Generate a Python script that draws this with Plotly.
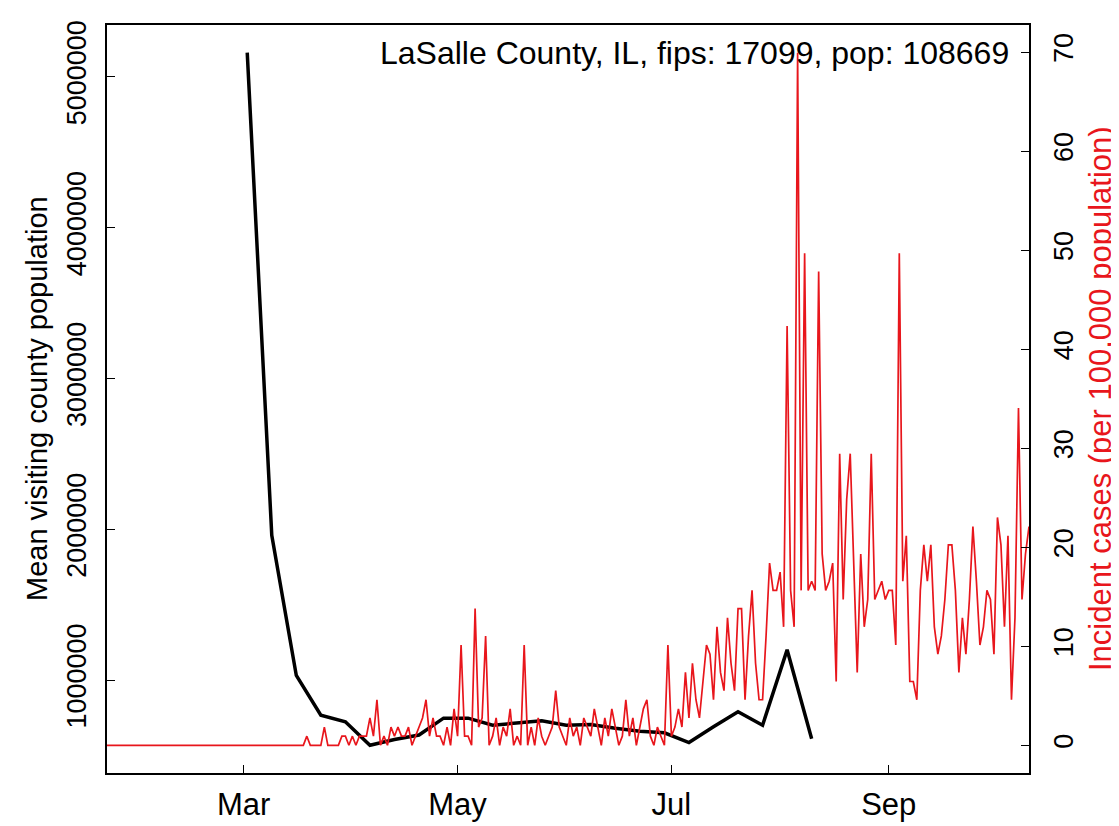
import datetime as dt
import plotly.graph_objects as go

# ---------------- data ----------------
county_label = "LaSalle County, IL, fips: 17099, pop: 108669"
population = 108669

# daily incident case counts, starting 2020-01-22
case_start = "2020-01-22"
daily_cases = (
    [0] * 57 +
    [1, 0, 0, 0, 0, 2, 0, 0, 0, 0, 1, 1, 0, 1, 0, 1, 1, 1, 3, 1,   # day 57-76
     5, 0, 1, 0, 2, 1, 2, 1, 1, 2, 0, 1, 2, 3, 5, 1, 3, 1, 1, 0,   # day 77-96
     2, 0, 4, 1, 11, 1, 1, 0, 15, 2, 3, 12, 0, 1, 3, 0, 2, 1, 4, 0,  # day 97-116
     1, 0, 11, 0, 2, 0, 3, 1, 0, 1, 2, 6, 2, 1, 0, 3, 1, 2, 0, 3,  # day 117-136
     2, 1, 4, 2, 0, 3, 1, 4, 2, 0, 1, 5, 1, 3, 0, 2, 4, 5, 1, 0,   # day 137-156
     2, 1, 0, 11, 1, 2, 4, 2, 8, 3, 9, 5, 3, 7, 11, 10, 5, 13, 8, 6,  # day 157-176
     14, 9, 6, 15, 15, 5, 12, 17, 9, 5, 5, 12, 20, 17, 17, 19, 13, 46, 17, 13,  # day 177-196
     76, 17, 54, 17, 18, 17, 52, 21, 17, 18, 20, 7, 32, 16, 27, 32, 20, 8, 21, 13,  # day 197-216
     16, 32, 16, 17, 18, 16, 17, 17, 11, 54, 18, 23, 7, 7, 5, 17, 22, 18, 22, 13,  # day 217-236
     10, 12, 16, 22, 22, 17, 8, 14, 10, 16, 24, 18, 11, 13, 17, 16, 10, 25, 22, 13,  # day 237-256
     23, 5, 14, 37, 16, 21, 24]  # day 257-263
)

# weekly mean visiting county population
mob_dates = ["2020-03-02", "2020-03-09", "2020-03-16", "2020-03-23", "2020-03-30",
             "2020-04-06", "2020-04-13", "2020-04-20", "2020-04-27", "2020-05-04",
             "2020-05-11", "2020-05-18", "2020-05-25", "2020-06-01", "2020-06-08",
             "2020-06-15", "2020-06-22", "2020-06-29", "2020-07-06", "2020-07-13",
             "2020-07-20", "2020-07-27", "2020-08-03", "2020-08-10"]
mob_values = [5160000, 1960000, 1030000, 766000, 723000,
              567000, 605000, 635000, 747000, 747000,
              700000, 715000, 730000, 700000, 705000,
              680000, 660000, 650000, 585000, 690000,
              790000, 700000, 1200000, 610000]

x_tick_vals = ["2020-03-01", "2020-05-01", "2020-07-01", "2020-09-01"]
x_tick_text = ["Mar", "May", "Jul", "Sep"]
left_tick_vals = [1000000, 2000000, 3000000, 4000000, 5000000]
left_tick_text = ["1000000", "2000000", "3000000", "4000000", "5000000"]
right_tick_vals = [0, 10, 20, 30, 40, 50, 60, 70]

# ---------------- derived ----------------
d0 = dt.date.fromisoformat(case_start)
case_dates = [d0 + dt.timedelta(days=i) for i in range(len(daily_cases))]
case_rate = [c * 100000 / population for c in daily_cases]


def rpad(lo, hi):
    r = hi - lo
    return [lo - 0.04 * r, hi + 0.04 * r]


RED = "#e8161c"
FONT = "Liberation Sans, Arial, sans-serif"

fig = go.Figure()
fig.add_trace(go.Scatter(x=case_dates, y=case_rate, mode="lines",
                         line=dict(color=RED, width=1.7), yaxis="y2",
                         showlegend=False))
fig.add_trace(go.Scatter(x=mob_dates, y=mob_values, mode="lines",
                         line=dict(color="black", width=3.5), yaxis="y",
                         showlegend=False))

axis_common = dict(showgrid=False, zeroline=False, showline=True,
                   linecolor="black", linewidth=1.5, ticks="inside",
                   ticklen=8, tickwidth=1.3, tickcolor="black")

fig.update_layout(
    width=1119, height=826,
    margin=dict(l=99, r=98, t=13, b=43),
    paper_bgcolor="white", plot_bgcolor="white",
    xaxis=dict(type="date", range=[case_dates[0], case_dates[-1]],
               tickvals=x_tick_vals, ticktext=x_tick_text,
               mirror=True, ticklabelstandoff=3,
               tickfont=dict(family=FONT, size=31, color="black"),
               **axis_common),
    yaxis=dict(range=rpad(min(mob_values), max(mob_values)),
               tickvals=left_tick_vals, ticktext=left_tick_text,
               tickangle=-90, mirror=True, ticklabelstandoff=8,
               tickfont=dict(family=FONT, size=27, color="black"),
               **axis_common),
    yaxis2=dict(range=rpad(0, max(case_rate)), overlaying="y", side="right",
                tickvals=right_tick_vals, tickangle=-90,
                ticklabelstandoff=10,
                tickfont=dict(family=FONT, size=27, color="black"),
                **axis_common),
    annotations=[
        dict(text=county_label, xref="paper", yref="paper", x=0.980, y=0.962,
             xanchor="right", yanchor="middle", showarrow=False,
             font=dict(family=FONT, size=32, color="black")),
        dict(text="Mean visiting county population", xref="paper",
             yref="paper", x=0.0, xshift=-70, y=0.5, textangle=-90,
             xanchor="center", yanchor="middle", showarrow=False,
             font=dict(family=FONT, size=29, color="black")),
        dict(text="Incident cases (per 100,000 population)", xref="paper",
             yref="paper", x=1.0, xshift=71, y=0.5, textangle=-90,
             xanchor="center", yanchor="middle", showarrow=False,
             font=dict(family=FONT, size=31, color=RED)),
    ],
)

fig.write_html("out.html")
